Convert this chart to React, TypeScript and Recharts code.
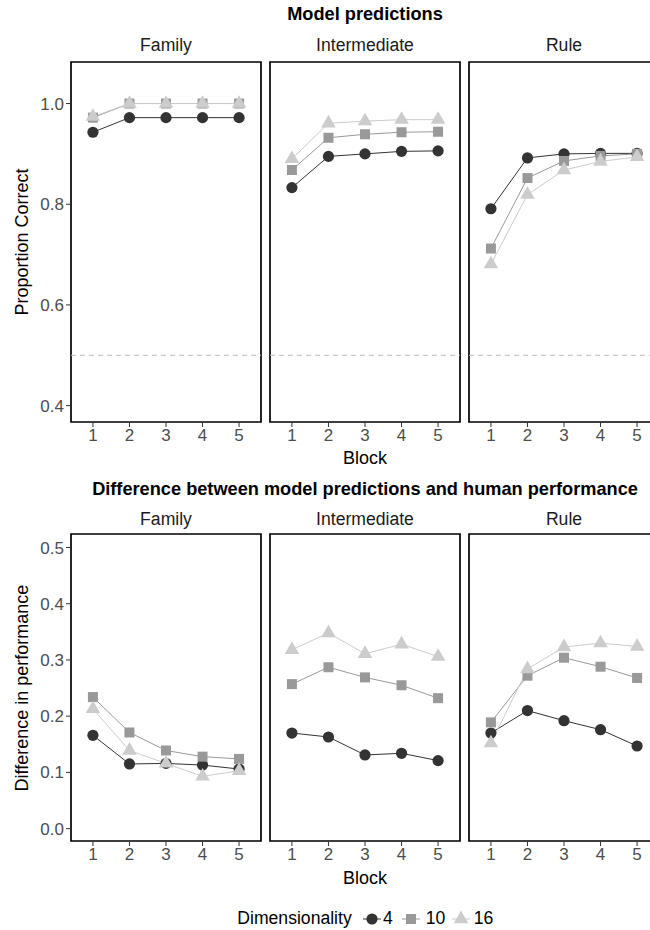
import { LineChart, Line, XAxis, YAxis, ReferenceLine, ReferenceArea } from 'recharts';

const FONT = '"Liberation Sans", Arial, Helvetica, sans-serif';

const blocks = [1, 2, 3, 4, 5];
const structures = ['Family', 'Intermediate', 'Rule'];
const dimensions = ['4', '10', '16'];

// Model predictions: proportion correct per block
const predFamily4 = [0.943, 0.972, 0.972, 0.972, 0.972];
const predFamily10 = [0.972, 1.0, 1.0, 1.0, 1.0];
const predFamily16 = [0.974, 1.0, 1.0, 1.0, 1.0];
const predInter4 = [0.833, 0.895, 0.9, 0.905, 0.906];
const predInter10 = [0.868, 0.932, 0.939, 0.943, 0.944];
const predInter16 = [0.89, 0.961, 0.965, 0.968, 0.968];
const predRule4 = [0.791, 0.892, 0.9, 0.901, 0.901];
const predRule10 = [0.712, 0.852, 0.886, 0.896, 0.9];
const predRule16 = [0.681, 0.819, 0.868, 0.885, 0.894];

// Model minus human performance per block
const diffFamily4 = [0.166, 0.115, 0.116, 0.113, 0.106];
const diffFamily10 = [0.234, 0.171, 0.139, 0.128, 0.124];
const diffFamily16 = [0.213, 0.139, 0.116, 0.093, 0.103];
const diffInter4 = [0.17, 0.163, 0.131, 0.134, 0.121];
const diffInter10 = [0.257, 0.287, 0.269, 0.255, 0.232];
const diffInter16 = [0.318, 0.348, 0.311, 0.328, 0.306];
const diffRule4 = [0.17, 0.21, 0.192, 0.176, 0.147];
const diffRule10 = [0.189, 0.272, 0.304, 0.288, 0.268];
const diffRule16 = [0.152, 0.284, 0.323, 0.33, 0.324];

const predTicks = [0.4, 0.6, 0.8, 1.0];
const diffTicks = [0, 0.1, 0.2, 0.3, 0.4, 0.5];
const predDomain: [number, number] = [0.3675, 1.0825];
const diffDomain: [number, number] = [-0.022, 0.524];
const chanceLevel = 0.5;

const COLORS = { '4': '#333333', '10': '#999999', '16': '#cccccc' };

const PANEL_W = 190;
const COL_LEFT = [71, 270, 469];
const TOP_ROW = { top: 62, height: 360 };
const BOTTOM_ROW = { top: 534, height: 307 };

function rows(a: number[], b: number[], c: number[]) {
  return blocks.map((block, i) => ({ block, d4: a[i], d10: b[i], d16: c[i] }));
}

const predData = [
  rows(predFamily4, predFamily10, predFamily16),
  rows(predInter4, predInter10, predInter16),
  rows(predRule4, predRule10, predRule16),
];
const diffData = [
  rows(diffFamily4, diffFamily10, diffFamily16),
  rows(diffInter4, diffInter10, diffInter16),
  rows(diffRule4, diffRule10, diffRule16),
];

function CircleShape({ cx, cy, size = 5.6 }: any) {
  return <circle cx={cx} cy={cy} r={size} fill={COLORS['4']} />;
}

function SquareShape({ cx, cy, size = 5 }: any) {
  return <rect x={cx - size} y={cy - size} width={size * 2} height={size * 2} fill={COLORS['10']} />;
}

// centroid sits on the data point, like R's filled triangle
function TriangleShape({ cx, cy, size = 5.4 }: any) {
  const r = 1.555 * size;
  const xc = 1.347 * size;
  const yc = 0.778 * size;
  return (
    <polygon
      points={`${cx},${cy - r} ${cx + xc},${cy + yc} ${cx - xc},${cy + yc}`}
      fill={COLORS['16']}
    />
  );
}

const renderCircle = (p: any) =>
  p.cx == null ? <g key={p.index} /> : <CircleShape key={p.index} cx={p.cx} cy={p.cy} />;
const renderSquare = (p: any) =>
  p.cx == null ? <g key={p.index} /> : <SquareShape key={p.index} cx={p.cx} cy={p.cy} />;
const renderTriangle = (p: any) =>
  p.cx == null ? <g key={p.index} /> : <TriangleShape key={p.index} cx={p.cx} cy={p.cy} />;

type PanelProps = {
  data: { block: number; d4: number; d10: number; d16: number }[];
  col: number;
  top: number;
  height: number;
  domain: [number, number];
  ticks: number[];
  chance?: number;
};

function Panel({ data, col, top, height, domain, ticks, chance }: PanelProps) {
  const showY = col === 0;
  const yW = showY ? 58 : 0;
  const m = 2;
  const axisTick = { fill: '#4d4d4d', fontSize: 17, fontFamily: FONT };

  return (
    <div style={{ position: 'absolute', left: COL_LEFT[col] - m - yW, top: top - m }}>
      <LineChart
        width={m + yW + PANEL_W + m}
        height={m + height + 30}
        data={data}
        margin={{ top: m, right: m, bottom: 0, left: m }}
      >
        <XAxis
          type="number"
          dataKey="block"
          domain={[0.4, 5.6]}
          ticks={blocks}
          interval={0}
          allowDataOverflow
          axisLine={false}
          tickLine={{ stroke: '#333333' }}
          tickSize={5}
          tickMargin={2}
          height={30}
          tick={axisTick}
        />
        <YAxis
          type="number"
          domain={domain}
          ticks={ticks}
          interval={0}
          allowDataOverflow
          hide={!showY}
          width={yW}
          axisLine={false}
          tickLine={{ stroke: '#333333' }}
          tickSize={5}
          tickMargin={2}
          tick={axisTick}
          tickFormatter={(v: number) => v.toFixed(1)}
        />
        {chance !== undefined && (
          <ReferenceLine y={chance} stroke="#bdbdbd" strokeDasharray="5 4" strokeWidth={1} />
        )}

        {/* lines first, then points, so every point sits above every line */}
        <Line type="linear" dataKey="d4" stroke={COLORS['4']} strokeWidth={1} dot={false} activeDot={false} isAnimationActive={false} />
        <Line type="linear" dataKey="d10" stroke={COLORS['10']} strokeWidth={1} dot={false} activeDot={false} isAnimationActive={false} />
        <Line type="linear" dataKey="d16" stroke={COLORS['16']} strokeWidth={1} dot={false} activeDot={false} isAnimationActive={false} />
        <Line type="linear" dataKey="d4" stroke="none" dot={renderCircle} activeDot={false} isAnimationActive={false} />
        <Line type="linear" dataKey="d10" stroke="none" dot={renderSquare} activeDot={false} isAnimationActive={false} />
        <Line type="linear" dataKey="d16" stroke="none" dot={renderTriangle} activeDot={false} isAnimationActive={false} />

        <ReferenceArea
          x1={0.4}
          x2={5.6}
          y1={domain[0]}
          y2={domain[1]}
          fill="none"
          stroke="#000000"
          strokeWidth={1.7}
          ifOverflow="visible"
        />
      </LineChart>
    </div>
  );
}

function Text({
  x,
  y,
  children,
  size = 18,
  bold = false,
  color = '#000000',
  rotate = false,
}: {
  x: number;
  y: number;
  children: React.ReactNode;
  size?: number;
  bold?: boolean;
  color?: string;
  rotate?: boolean;
}) {
  return (
    <div
      style={{
        position: 'absolute',
        left: x,
        top: y,
        transform: `translate(-50%, -50%)${rotate ? ' rotate(-90deg)' : ''}`,
        fontSize: size,
        fontWeight: bold ? 700 : 400,
        color,
        lineHeight: 1,
        whiteSpace: 'nowrap',
      }}
    >
      {children}
    </div>
  );
}

function LegendKey({ x, y, shape }: { x: number; y: number; shape: string }) {
  const color = COLORS[shape as keyof typeof COLORS];
  return (
    <svg style={{ position: 'absolute', left: x - 10, top: y - 10 }} width={20} height={20}>
      <line x1={1} y1={10} x2={19} y2={10} stroke={color} strokeWidth={1} />
      {shape === '4' && <CircleShape cx={10} cy={10} />}
      {shape === '10' && <SquareShape cx={10} cy={10} />}
      {shape === '16' && <TriangleShape cx={10} cy={10} />}
    </svg>
  );
}

export default function App() {
  const midX = (COL_LEFT[0] + COL_LEFT[2] + PANEL_W) / 2;
  const legendKeys = [371.5, 411, 461];
  const legendLabels = [388, 435.5, 483.5];

  return (
    <div
      style={{
        position: 'absolute',
        left: 0,
        top: 0,
        width: 650,
        height: 930,
        overflow: 'hidden',
        background: '#ffffff',
        fontFamily: FONT,
      }}
    >
      <Text x={midX} y={14} size={18.2} bold>
        Model predictions
      </Text>
      {structures.map((s, i) => (
        <Text key={`ts-${s}`} x={COL_LEFT[i] + PANEL_W / 2} y={46} size={17.6} color="#1a1a1a">
          {s}
        </Text>
      ))}
      {predData.map((d, i) => (
        <Panel
          key={`pred-${i}`}
          data={d}
          col={i}
          top={TOP_ROW.top}
          height={TOP_ROW.height}
          domain={predDomain}
          ticks={predTicks}
          chance={chanceLevel}
        />
      ))}
      <Text x={22} y={TOP_ROW.top + TOP_ROW.height / 2} rotate>
        Proportion Correct
      </Text>
      <Text x={midX} y={458}>
        Block
      </Text>

      <Text x={midX} y={489} size={18.2} bold>
        Difference between model predictions and human performance
      </Text>
      {structures.map((s, i) => (
        <Text key={`bs-${s}`} x={COL_LEFT[i] + PANEL_W / 2} y={520} size={17.6} color="#1a1a1a">
          {s}
        </Text>
      ))}
      {diffData.map((d, i) => (
        <Panel
          key={`diff-${i}`}
          data={d}
          col={i}
          top={BOTTOM_ROW.top}
          height={BOTTOM_ROW.height}
          domain={diffDomain}
          ticks={diffTicks}
        />
      ))}
      <Text x={22} y={BOTTOM_ROW.top + BOTTOM_ROW.height / 2} rotate>
        Difference in performance
      </Text>
      <Text x={midX} y={878}>
        Block
      </Text>

      <Text x={294.5} y={919} size={17.6}>
        Dimensionality
      </Text>
      {dimensions.map((dim, i) => (
        <LegendKey key={`k-${dim}`} x={legendKeys[i]} y={919} shape={dim} />
      ))}
      {dimensions.map((dim, i) => (
        <Text key={`l-${dim}`} x={legendLabels[i]} y={919} size={17.6}>
          {dim}
        </Text>
      ))}
    </div>
  );
}
